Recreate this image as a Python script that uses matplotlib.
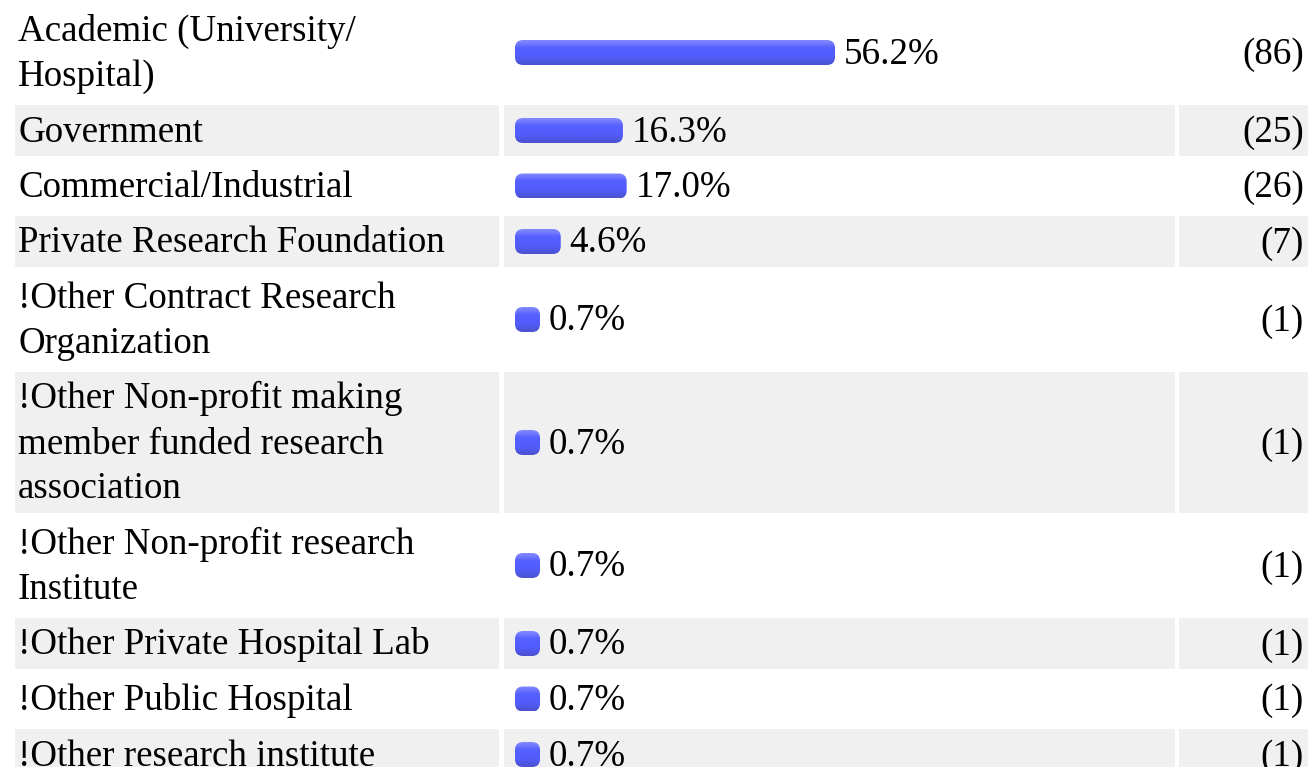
import matplotlib
matplotlib.use("Agg")
import matplotlib.pyplot as plt
from matplotlib.patches import FancyBboxPatch, Rectangle
from matplotlib.colors import to_rgb
import numpy as np

# ---- data ----
categories = [
    "Academic (University/\nHospital)",
    "Government",
    "Commercial/Industrial",
    "Private Research Foundation",
    "!Other Contract Research\nOrganization",
    "!Other Non-profit making\nmember funded research\nassociation",
    "!Other Non-profit research\nInstitute",
    "!Other Private Hospital Lab",
    "!Other Public Hospital",
    "!Other research institute",
]
percents = [56.2, 16.3, 17.0, 4.6, 0.7, 0.7, 0.7, 0.7, 0.7, 0.7]
counts = [86, 25, 26, 7, 1, 1, 1, 1, 1, 1]

# ---- layout / style ----
W, H = 1308, 767
LINE = 45
PAD = 3
GAP = 4.5
TOP0 = 4.5
BASE = 36.5        # first baseline below row top (px)
COL1 = (15, 499)
COL2 = (504, 1175)
COL3 = (1179, 1308)
BAR_X0 = 515
PX_PER_PCT = 5.315
CAP_PX = 21.3
BAR_H = 25
RADIUS_PX = 8
FS = 37 * 0.72
FONT = ["Liberation Serif", "DejaVu Serif"]
ROW_BG = "#f0f0f0"

fig = plt.figure(figsize=(W / 100, H / 100), dpi=100)
fig.patch.set_facecolor("white")
ax = fig.add_axes([0, 0, 1, 1])
ax.set_xlim(0, W)
ax.set_ylim(H, 0)
ax.axis("off")

bx = fig.add_axes([BAR_X0 / W, 0, (COL2[1] - BAR_X0) / W, 1])
bx.set_xlim(0, (COL2[1] - BAR_X0) / PX_PER_PCT)
bx.set_ylim(H, 0)
bx.axis("off")
bx.patch.set_alpha(0)
cap = CAP_PX / PX_PER_PCT

# vertical gradient for the glossy bars
stops = ["#8088ff", "#6f78ff", "#5862ff", "#545eff", "#545eff", "#525bf6",
         "#4e57e2", "#4a52d0"]
grad = np.array([to_rgb(c) for c in stops])
ys = np.linspace(0, 1, BAR_H)
gimg = np.stack([np.interp(ys, np.linspace(0, 1, len(stops)), grad[:, k]) for k in range(3)], axis=-1)
gimg = gimg[:, None, :]

top = TOP0
for i, (lab, p, c) in enumerate(zip(categories, percents, counts)):
    lines = lab.split("\n")
    h = 2 * PAD + LINE * len(lines)
    yc = top + h / 2
    if i % 2 == 1:
        for (a, b) in (COL1, COL2, COL3):
            ax.add_patch(Rectangle((a, top), b - a, h, facecolor=ROW_BG,
                                   edgecolor="none", zorder=0))
    for j, ln in enumerate(lines):
        ax.text(18, top + BASE + LINE * j, ln, fontsize=FS, family=FONT,
                va="baseline", ha="left", color="black", zorder=3)
    # bar
    wdt = p + cap
    patch = FancyBboxPatch((0, yc - BAR_H / 2), wdt, BAR_H,
                           boxstyle=f"round,pad=0,rounding_size={RADIUS_PX / PX_PER_PCT}",
                           mutation_aspect=PX_PER_PCT,
                           facecolor="none", edgecolor="none", zorder=2)
    bx.add_patch(patch)
    im = bx.imshow(gimg, extent=[0, wdt, yc + BAR_H / 2, yc - BAR_H / 2],
                   aspect="auto", interpolation="bilinear", zorder=2)
    im.set_clip_path(patch)
    bx.annotate(f"{p:.1f}%", xy=(wdt, yc), xytext=(9, -(BASE - 25.5)),
                textcoords="offset pixels", fontsize=FS, family=FONT,
                va="baseline", ha="left", color="black", zorder=3,
                annotation_clip=False)
    ax.text(1304, yc + (BASE - 25.5), f"({c})", fontsize=FS, family=FONT,
            va="baseline", ha="right", color="black", zorder=3)
    top += h + GAP

bx.set_xlim(0, (COL2[1] - BAR_X0) / PX_PER_PCT)
bx.set_ylim(H, 0)

fig.savefig("out.png", dpi=100, facecolor="white")
